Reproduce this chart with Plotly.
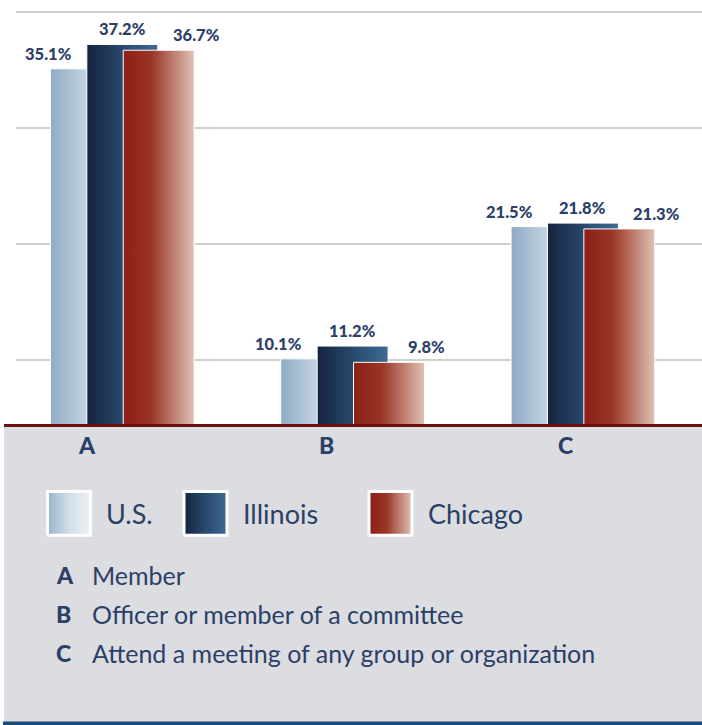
import plotly.graph_objects as go

# data
categories = ["A", "B", "C"]
descriptions = [
    "Member",
    "Officer or member of a committee",
    "Attend a meeting of any group or organization",
]
series = ["U.S.", "Illinois", "Chicago"]
us = [35.1, 10.1, 21.5]
illinois = [37.2, 11.2, 21.8]
chicago = [36.7, 9.8, 21.3]

W, H = 702, 725
NAVY = "#2b3f68"
FONT = "Lato"

gradients = {
    "U.S.": [[0, "#8eabc6"], [0.5, "#c3d2e0"], [1, "#e2e8ee"]],
    "Illinois": [[0, "#15233f"], [0.5, "#29486d"], [1, "#3e6b94"]],
    "Chicago": [[0, "#8c1f17"], [0.4, "#9a3526"], [1, "#e0c2b5"]],
}
legend_gradients = {
    "U.S.": [[0, "#98b3cb"], [0.5, "#d3dee8"], [1, "#eef1f4"]],
    "Illinois": gradients["Illinois"],
    "Chicago": gradients["Chicago"],
}

values = [us, illinois, chicago]
BAR_W = 0.308
offsets = [-0.158, 0.0, 0.158]
label_offsets = [-0.32, 0.0, 0.32]

fig = go.Figure()

# bars with horizontal gradient
for s, name in enumerate(series):
    for i, v in enumerate(values[s]):
        x0 = i + offsets[s] - BAR_W / 2
        x1 = x0 + BAR_W
        fig.add_trace(go.Scatter(
            x=[x0, x0, x1, x1, x0], y=[0, v, v, 0, 0],
            mode="lines", fill="toself",
            fillgradient=dict(type="horizontal", colorscale=gradients[name]),
            line=dict(color="white", width=1),
            hoverinfo="skip", showlegend=False,
        ))

annotations = []
for s, name in enumerate(series):
    for i, v in enumerate(values[s]):
        annotations.append(dict(
            x=i + label_offsets[s], y=v, xref="x", yref="y",
            text=f"{v:.1f}%", showarrow=False, yanchor="bottom", yshift=3,
            font=dict(family=FONT, size=16.5, color=NAVY, weight=900),
        ))

# category letters under the axis (pixel overlay axis)
for i, c in enumerate(categories):
    annotations.append(dict(
        x=87 + 239.4 * i, y=445, xref="x2", yref="y2", text=c,
        showarrow=False, xanchor="center", yanchor="middle",
        font=dict(family=FONT, size=23, color=NAVY, weight=900),
    ))

# custom legend
legend_x = [46, 182.5, 367.5]
for k, name in enumerate(series):
    lx0 = legend_x[k] + 1.5
    lx1 = legend_x[k] + 44.5
    ly0, ly1 = 491.5, 535.2
    fig.add_trace(go.Scatter(
        x=[lx0, lx0, lx1, lx1, lx0], y=[ly1, ly0, ly0, ly1, ly1],
        xaxis="x2", yaxis="y2", mode="lines", fill="toself",
        fillgradient=dict(type="horizontal", colorscale=legend_gradients[name]),
        line=dict(color="white", width=3),
        hoverinfo="skip", showlegend=False,
    ))
    annotations.append(dict(
        x=legend_x[k] + 58, y=513, xref="x2", yref="y2", text=name,
        showarrow=False, xanchor="left", yanchor="middle",
        font=dict(family=FONT, size=27, color=NAVY),
    ))

# category descriptions
for i, (c, d) in enumerate(zip(categories, descriptions)):
    yy = 575 + 39 * i
    annotations.append(dict(
        x=54, y=yy, xref="x2", yref="y2", text=c, showarrow=False,
        xanchor="left", yanchor="middle",
        font=dict(family=FONT, size=23, color=NAVY, weight=900),
    ))
    annotations.append(dict(
        x=90, y=yy, xref="x2", yref="y2", text=d, showarrow=False,
        xanchor="left", yanchor="middle",
        font=dict(family=FONT, size=25, color=NAVY),
    ))

shapes = [
    dict(type="rect", xref="x2", yref="y2", x0=4, x1=702, y0=426, y1=722,
         fillcolor="#dcdde0", line=dict(width=0), layer="below"),
    dict(type="rect", xref="x2", yref="y2", x0=3, x1=702, y0=721.5, y1=725,
         fillcolor="#1c4a7c", line=dict(width=0), layer="below"),
    dict(type="line", xref="x2", yref="y2", x0=4, x1=702, y0=425.5, y1=425.5,
         line=dict(color="#6d0f10", width=3), layer="above"),
]

fig.update_layout(
    width=W, height=H,
    margin=dict(l=0, r=0, t=0, b=0),
    paper_bgcolor="white",
    plot_bgcolor="rgba(0,0,0,0)",
    showlegend=False,
    xaxis=dict(domain=[16 / W, 1], range=[-0.4616, 2.517], showgrid=False,
               zeroline=False, showticklabels=False, ticks=""),
    yaxis=dict(domain=[300 / H, 1], range=[4.397, 41.03],
               tickvals=[10, 20, 30, 40], showgrid=True,
               gridcolor="#cfcfcf", gridwidth=1.5, zeroline=False,
               showticklabels=False, ticks=""),
    xaxis2=dict(domain=[0, 1], range=[0, W], anchor="y2", visible=False),
    yaxis2=dict(domain=[0, 1], range=[H, 0], anchor="x2", visible=False),
    annotations=annotations,
    shapes=shapes,
)

fig.write_html("out.html", config={"displayModeBar": False},
               post_script="document.body.style.margin='0';")
